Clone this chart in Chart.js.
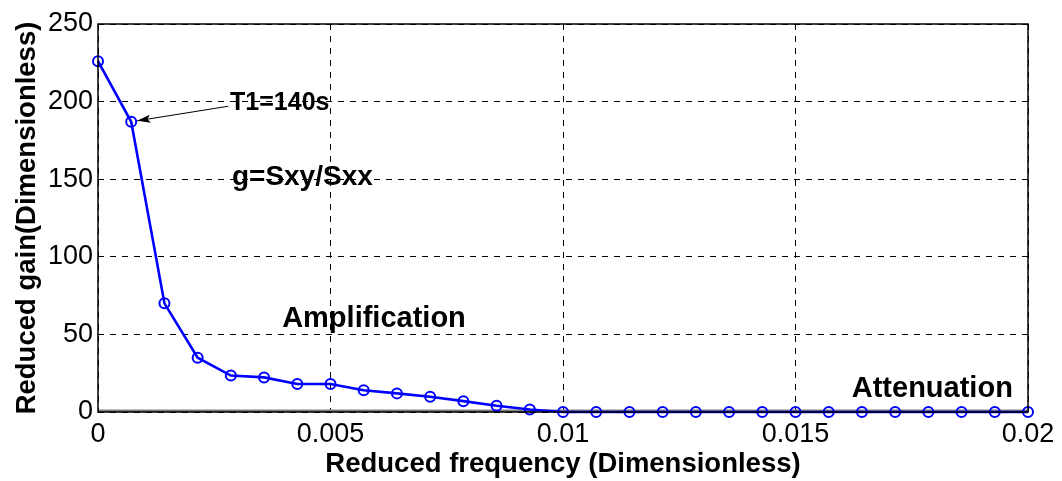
<!DOCTYPE html>
<html>
<head>
<meta charset="utf-8">
<script src="https://cdn.jsdelivr.net/npm/chart.js@4/dist/chart.umd.min.js"></script>
<style>
html,body{margin:0;padding:0;background:#fff;}
#wrap{width:1062px;height:481px;position:relative;}
</style>
</head>
<body>
<div id="wrap"><canvas id="c" width="1062" height="481"></canvas></div>
<script>
// Reduced frequency (x) and reduced gain (y)
const freq = [0, 0.000714, 0.001429, 0.002143, 0.002857, 0.003571, 0.004286, 0.005,
  0.005714, 0.006429, 0.007143, 0.007857, 0.008571, 0.009286, 0.01, 0.010714,
  0.011429, 0.012143, 0.012857, 0.013571, 0.014286, 0.015, 0.015714, 0.016429,
  0.017143, 0.017857, 0.018571, 0.019286, 0.02];
const gain = [226, 187, 70, 35, 23.5, 22.3, 18, 18, 14, 12, 9.8, 7, 4, 1.6,
  0, 0, 0, 0, 0, 0, 0, 0, 0, 0, 0, 0, 0, 0, 0];
const baseX = [0, 0.02];
const baseY = [0.8, 0.8];
const xTicks = [0, 0.005, 0.01, 0.015, 0.02];
const xTickLabels = ['0', '0.005', '0.01', '0.015', '0.02'];
const yTicks = [0, 50, 100, 150, 200, 250];
const yTickLabels = ['0', '50', '100', '150', '200', '250'];
const notes = [
  {text: 'T1=140s', x: 0.00284, y: 199, size: 25},
  {text: 'g=Sxy/Sxx', x: 0.00288, y: 151, size: 28},
  {text: 'Amplification', x: 0.00396, y: 60, size: 29},
  {text: 'Attenuation', x: 0.01621, y: 15, size: 29}
];
const arrowFrom = {x: 0.0028, y: 197};
const arrowToIndex = 1;

const FONT = "'Liberation Sans', Arial, Helvetica, sans-serif";

const overlay = {
  id: 'overlay',
  afterDatasetsDraw(chart) {
    const ctx = chart.ctx;
    const xs = chart.scales.x, ys = chart.scales.y;
    const a = chart.chartArea;
    ctx.save();
    ctx.strokeStyle = '#000';
    ctx.lineWidth = 1.5;
    ctx.strokeRect(a.left, a.top, a.right - a.left, a.bottom - a.top);
    ctx.fillStyle = '#000';
    ctx.textBaseline = 'middle';
    ctx.textAlign = 'left';
    notes.forEach(n => {
      ctx.font = 'bold ' + n.size + 'px ' + FONT;
      ctx.fillText(n.text, xs.getPixelForValue(n.x), ys.getPixelForValue(n.y));
    });
    const sx = xs.getPixelForValue(arrowFrom.x), sy = ys.getPixelForValue(arrowFrom.y);
    const px = xs.getPixelForValue(freq[arrowToIndex]), py = ys.getPixelForValue(gain[arrowToIndex]);
    const ang = Math.atan2(sy - py, sx - px);
    const ex = px + Math.cos(ang) * 6, ey = py + Math.sin(ang) * 6;
    ctx.strokeStyle = '#000';
    ctx.lineWidth = 1;
    ctx.beginPath(); ctx.moveTo(sx, sy); ctx.lineTo(ex, ey); ctx.stroke();
    const L = 14, w = 0.3;
    ctx.beginPath();
    ctx.moveTo(ex, ey);
    ctx.lineTo(ex + Math.cos(ang + w) * L, ey + Math.sin(ang + w) * L);
    ctx.lineTo(ex + Math.cos(ang) * L * 0.75, ey + Math.sin(ang) * L * 0.75);
    ctx.lineTo(ex + Math.cos(ang - w) * L, ey + Math.sin(ang - w) * L);
    ctx.closePath();
    ctx.fillStyle = '#000';
    ctx.fill();
    ctx.restore();
  }
};

new Chart(document.getElementById('c'), {
  type: 'scatter',
  data: {
    datasets: [
      {
        data: baseX.map((x, i) => ({x, y: baseY[i]})),
        showLine: true, borderColor: '#808080', borderWidth: 2.5,
        pointRadius: 0, order: 2
      },
      {
        data: freq.map((x, i) => ({x, y: gain[i]})),
        showLine: true, borderColor: '#0000ff', borderWidth: 2.6,
        pointRadius: 5, pointBorderWidth: 2, pointBorderColor: '#0000ff',
        pointBackgroundColor: 'rgba(255,255,255,0)', clip: false, order: 1
      }
    ]
  },
  options: {
    responsive: false,
    animation: false,
    layout: {padding: {top: 24, right: 34, left: 0, bottom: 0}},
    plugins: {legend: {display: false}, tooltip: {enabled: false}},
    scales: {
      x: {
        type: 'linear', min: 0, max: 0.02,
        afterBuildTicks: s => { s.ticks = xTicks.map(v => ({value: v})); },
        afterFit: s => { s.height = 69; },
        ticks: {
          callback: (v) => xTickLabels[xTicks.indexOf(v)] ?? '',
          color: '#000', font: {family: FONT, size: 27}, padding: 6, maxRotation: 0
        },
        grid: {color: '#000', lineWidth: 1, drawTicks: false},
        border: {display: false, dash: [6, 6]},
        title: {display: true, text: 'Reduced frequency (Dimensionless)', color: '#000',
          font: {family: FONT, size: 27.5, weight: 'bold'}, padding: {top: 0, bottom: 0}}
      },
      y: {
        type: 'linear', min: 0, max: 250,
        afterBuildTicks: s => { s.ticks = yTicks.map(v => ({value: v})); },
        afterFit: s => { s.width = 98; },
        ticks: {
          callback: (v) => yTickLabels[yTicks.indexOf(v)] ?? '',
          color: '#000', font: {family: FONT, size: 27}, padding: 5
        },
        grid: {color: '#000', lineWidth: 1, drawTicks: false},
        border: {display: false, dash: [6, 6]},
        title: {display: true, text: 'Reduced gain(Dimensionless)', color: '#000',
          font: {family: FONT, size: 27.5, weight: 'bold'}, padding: {top: 11, bottom: 0}}
      }
    }
  },
  plugins: [overlay]
});
</script>
</body>
</html>
